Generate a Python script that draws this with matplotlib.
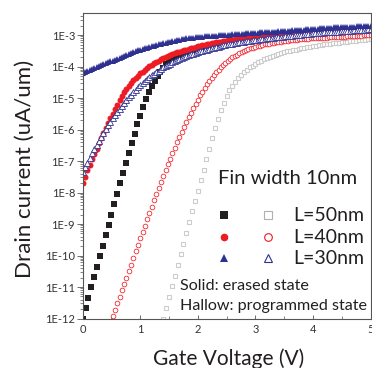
import numpy as np
import matplotlib.pyplot as plt
from matplotlib.ticker import LogLocator, FuncFormatter, MultipleLocator, NullFormatter

plt.rcParams['font.family'] = ['Lato', 'DejaVu Sans']

# log10 of drain current (uA/um)
# L=50nm, erased (solid squares), 0 V .. 5 V step 0.05
l50_erased = [
    -12.00, -11.67, -11.34, -11.01, -10.68, -10.35, -10.02, -9.69, -9.36, -9.03,
    -8.70, -8.37, -8.04, -7.71, -7.38, -7.06, -6.74, -6.43, -6.13, -5.84,
    -5.56, -5.29, -5.04, -4.82, -4.62, -4.45, -4.30, -4.17, -4.05, -3.93,
    -3.82, -3.77, -3.73, -3.68, -3.64, -3.60, -3.57, -3.54, -3.51, -3.49,
    -3.47, -3.45, -3.43, -3.41, -3.40, -3.38, -3.37, -3.36, -3.35, -3.33,
    -3.32, -3.30, -3.28, -3.27, -3.25, -3.24, -3.22, -3.21, -3.20, -3.19,
    -3.18, -3.16, -3.15, -3.14, -3.13, -3.12, -3.11, -3.10, -3.09, -3.08,
    -3.07, -3.06, -3.05, -3.04, -3.03, -3.02, -3.01, -3.00, -2.99, -2.98,
    -2.97, -2.96, -2.96, -2.95, -2.94, -2.93, -2.93, -2.92, -2.91, -2.91,
    -2.90, -2.89, -2.89, -2.88, -2.88, -2.87, -2.87, -2.86, -2.85, -2.85,
    -2.84]
# L=50nm, programmed (hollow squares), 1.40 V .. 5 V step 0.05
l50_prog = [
    -12.00, -11.66, -11.32, -10.98, -10.64, -10.30, -9.96, -9.62, -9.28, -8.94,
    -8.60, -8.27, -7.94, -7.61, -7.28, -6.95, -6.62, -6.28, -5.96, -5.66,
    -5.39, -5.15, -4.94, -4.76, -4.61, -4.48, -4.37, -4.27, -4.18, -4.10,
    -4.03, -3.97, -3.91, -3.86, -3.81, -3.77, -3.73, -3.69, -3.66, -3.63,
    -3.60, -3.57, -3.54, -3.52, -3.50, -3.48, -3.46, -3.44, -3.42, -3.40,
    -3.38, -3.37, -3.35, -3.34, -3.32, -3.31, -3.29, -3.28, -3.27, -3.26,
    -3.25, -3.24, -3.23, -3.22, -3.21, -3.20, -3.19, -3.18, -3.17, -3.16,
    -3.15, -3.14, -3.13]
# L=40nm, erased (solid circles), 0 V .. 5 V step 0.04
l40_erased = [
    -7.70, -7.50, -7.30, -7.12, -6.95, -6.78, -6.61, -6.44, -6.28, -6.12,
    -5.96, -5.80, -5.65, -5.50, -5.35, -5.21, -5.07, -4.94, -4.82, -4.71,
    -4.61, -4.52, -4.44, -4.36, -4.29, -4.22, -4.16, -4.10, -4.04, -3.99,
    -3.94, -3.89, -3.85, -3.81, -3.77, -3.73, -3.70, -3.67, -3.64, -3.61,
    -3.58, -3.55, -3.53, -3.50, -3.48, -3.46, -3.44, -3.42, -3.40, -3.38,
    -3.36, -3.34, -3.32, -3.31, -3.29, -3.28, -3.26, -3.25, -3.23, -3.22,
    -3.21, -3.19, -3.18, -3.17, -3.16, -3.15, -3.14, -3.13, -3.12, -3.11,
    -3.10, -3.09, -3.08, -3.07, -3.06, -3.05, -3.04, -3.04, -3.03, -3.02,
    -3.02, -3.01, -3.00, -3.00, -2.99, -2.99, -2.98, -2.98, -2.97, -2.97,
    -2.96, -2.96, -2.95, -2.95, -2.95, -2.94, -2.94, -2.93, -2.93, -2.93,
    -2.92, -2.92, -2.92, -2.91, -2.91, -2.91, -2.90, -2.90, -2.90, -2.90,
    -2.89, -2.89, -2.89, -2.89, -2.88, -2.88, -2.88, -2.88, -2.87, -2.87,
    -2.87, -2.87, -2.86, -2.86, -2.86, -2.86]
# L=40nm, programmed (hollow circles), 0.52 V .. 5 V step 0.04
l40_prog = [
    -11.92, -11.72, -11.52, -11.31, -11.11, -10.90, -10.70, -10.49, -10.29, -10.08,
    -9.87, -9.67, -9.46, -9.26, -9.05, -8.85, -8.65, -8.45, -8.25, -8.05,
    -7.86, -7.67, -7.48, -7.29, -7.11, -6.93, -6.75, -6.58, -6.41, -6.24,
    -6.08, -5.92, -5.76, -5.61, -5.46, -5.32, -5.18, -5.05, -4.92, -4.80,
    -4.68, -4.57, -4.46, -4.36, -4.27, -4.18, -4.10, -4.02, -3.95, -3.88,
    -3.82, -3.76, -3.71, -3.66, -3.62, -3.58, -3.54, -3.51, -3.48, -3.45,
    -3.42, -3.40, -3.38, -3.36, -3.34, -3.32, -3.30, -3.29, -3.27, -3.26,
    -3.24, -3.23, -3.22, -3.21, -3.20, -3.19, -3.18, -3.17, -3.16, -3.15,
    -3.15, -3.14, -3.13, -3.13, -3.12, -3.12, -3.11, -3.11, -3.10, -3.10,
    -3.09, -3.09, -3.08, -3.08, -3.07, -3.07, -3.07, -3.06, -3.06, -3.05,
    -3.05, -3.05, -3.04, -3.04, -3.03, -3.03, -3.03, -3.02, -3.02, -3.01,
    -3.01, -3.01, -3.00]
# L=30nm, erased (solid triangles), 0 V .. 5 V step 0.04
l30_erased = [
    -4.20, -4.17, -4.14, -4.11, -4.08, -4.05, -4.02, -3.99, -3.96, -3.93,
    -3.90, -3.87, -3.84, -3.81, -3.78, -3.75, -3.72, -3.69, -3.66, -3.63,
    -3.60, -3.57, -3.54, -3.52, -3.49, -3.47, -3.45, -3.42, -3.40, -3.38,
    -3.36, -3.34, -3.32, -3.30, -3.28, -3.26, -3.24, -3.22, -3.21, -3.19,
    -3.18, -3.16, -3.15, -3.13, -3.12, -3.11, -3.10, -3.09, -3.08, -3.07,
    -3.06, -3.05, -3.05, -3.04, -3.04, -3.03, -3.03, -3.02, -3.02, -3.01,
    -3.01, -3.00, -3.00, -2.99, -2.99, -2.98, -2.98, -2.97, -2.97, -2.96,
    -2.96, -2.95, -2.95, -2.94, -2.94, -2.93, -2.93, -2.92, -2.92, -2.91,
    -2.91, -2.90, -2.90, -2.89, -2.89, -2.88, -2.88, -2.87, -2.87, -2.86,
    -2.86, -2.85, -2.85, -2.84, -2.84, -2.83, -2.83, -2.82, -2.82, -2.81,
    -2.81, -2.80, -2.80, -2.79, -2.79, -2.78, -2.78, -2.77, -2.77, -2.76,
    -2.76, -2.75, -2.75, -2.75, -2.74, -2.74, -2.73, -2.73, -2.73, -2.72,
    -2.72, -2.71, -2.71, -2.71, -2.70, -2.70]
# L=30nm, programmed (hollow triangles), 0 V .. 5 V step 0.04
l30_prog = [
    -7.35, -7.20, -7.05, -6.90, -6.76, -6.62, -6.49, -6.36, -6.23, -6.11,
    -5.99, -5.87, -5.76, -5.65, -5.54, -5.44, -5.34, -5.24, -5.15, -5.06,
    -4.97, -4.89, -4.81, -4.73, -4.66, -4.59, -4.52, -4.46, -4.40, -4.34,
    -4.28, -4.23, -4.18, -4.13, -4.08, -4.03, -3.99, -3.95, -3.91, -3.87,
    -3.83, -3.80, -3.76, -3.73, -3.70, -3.67, -3.64, -3.61, -3.59, -3.56,
    -3.54, -3.52, -3.50, -3.48, -3.46, -3.44, -3.42, -3.40, -3.38, -3.37,
    -3.35, -3.33, -3.32, -3.30, -3.29, -3.27, -3.26, -3.25, -3.23, -3.22,
    -3.21, -3.20, -3.19, -3.18, -3.17, -3.16, -3.15, -3.14, -3.13, -3.12,
    -3.11, -3.10, -3.09, -3.08, -3.07, -3.06, -3.06, -3.05, -3.04, -3.03,
    -3.02, -3.02, -3.01, -3.00, -2.99, -2.99, -2.98, -2.97, -2.97, -2.96,
    -2.95, -2.95, -2.94, -2.93, -2.93, -2.92, -2.92, -2.91, -2.91, -2.90,
    -2.89, -2.89, -2.88, -2.88, -2.87, -2.87, -2.86, -2.86, -2.85, -2.85,
    -2.84, -2.84, -2.83, -2.83, -2.82, -2.82]

legend_labels = ['L=50nm', 'L=40nm', 'L=30nm']

black = '#231f20'
red = '#ed1c24'
blue = '#2e3192'
grey = '#cccccc'


def vgrid(start, step, vals):
    return np.round(start + step * np.arange(len(vals)), 2)


def cur(vals):
    return 10.0 ** np.array(vals)


fig = plt.figure(figsize=(3.72, 3.68), dpi=100)
ax = fig.add_axes([0.2223, 0.1345, 0.7737, 0.8294])

ax.plot(vgrid(0, 0.05, l50_erased), cur(l50_erased), ls='none', marker='s',
        ms=4.0, mfc=black, mec=black, mew=0)
ax.plot(vgrid(0, 0.04, l40_erased), cur(l40_erased), ls='none', marker='o',
        ms=4.3, mfc=red, mec=red, mew=0)
ax.plot(vgrid(1.40, 0.05, l50_prog), cur(l50_prog), ls='none', marker='s',
        ms=3.1, mfc='white', mec=grey, mew=0.8)
ax.plot(vgrid(0.52, 0.04, l40_prog), cur(l40_prog), ls='none', marker='o',
        ms=3.4, mfc='white', mec=red, mew=0.55)
ax.plot(vgrid(0, 0.04, l30_prog), cur(l30_prog), ls='none', marker='^',
        ms=4.3, mfc='white', mec=blue, mew=0.6)
ax.plot(vgrid(0, 0.04, l30_erased), cur(l30_erased), ls='none', marker='^',
        ms=4.5, mfc=blue, mec=blue, mew=0)

ax.set_xlim(0, 5)
ax.set_yscale('log')
ax.set_ylim(1e-12, 10 ** -2.31)

ax.xaxis.set_major_locator(MultipleLocator(1))
ax.xaxis.set_minor_locator(MultipleLocator(0.5))
ax.yaxis.set_major_locator(LogLocator(base=10, numticks=20))
ax.yaxis.set_minor_locator(LogLocator(base=10, subs=np.arange(2, 10), numticks=20))
ax.yaxis.set_major_formatter(FuncFormatter(lambda v, p: '1E%d' % round(np.log10(v))))
ax.yaxis.set_minor_formatter(NullFormatter())

ax.tick_params(axis='y', which='major', direction='out', length=4, width=0.6,
               color='#555555', labelsize=8, labelcolor='#333333', pad=1.5)
ax.tick_params(axis='y', which='minor', direction='out', length=2.2, width=0.5,
               color='#555555')
ax.tick_params(axis='x', which='major', direction='in', length=3, width=0.6,
               color='#555555', labelsize=8, labelcolor='#333333', pad=4)
ax.tick_params(axis='x', which='minor', direction='in', length=2, width=0.5,
               color='#555555')
for s in ax.spines.values():
    s.set_color('#555555')
    s.set_linewidth(0.8)

ax.set_ylabel('Drain current (uA/um)', fontsize=16, color=black)
ax.yaxis.set_label_coords(-0.166, 0.491)
ax.set_xlabel('Gate Voltage (V)', fontsize=15, color=black)
ax.xaxis.set_label_coords(0.508, -0.098)

# legend drawn by hand
ax.text(0.471, 0.44, 'Fin width 10nm', transform=ax.transAxes, fontsize=14.5,
        color=black, va='baseline', ha='left')
rows = [0.339, 0.266, 0.198]
solid = [('s', black, black), ('o', red, red), ('^', blue, blue)]
hollow = [('s', 'white', '#b0b0b0'), ('o', 'white', red), ('^', 'white', blue)]
for i, lab in enumerate(legend_labels):
    m, fc, ec = solid[i]
    ax.plot([0.491], [rows[i]], transform=ax.transAxes, marker=m, ms=5.5,
            mfc=fc, mec=ec, mew=0, ls='none', clip_on=False)
    m, fc, ec = hollow[i]
    ax.plot([0.644], [rows[i]], transform=ax.transAxes, marker=m, ms=5.5,
            mfc=fc, mec=ec, mew=0.8, ls='none', clip_on=False)
    ax.text(0.731, rows[i], lab, transform=ax.transAxes, fontsize=14,
            color=black, va='center', ha='left')

ax.text(0.338, 0.106, 'Solid: erased state', transform=ax.transAxes,
        fontsize=11.6, color=black, va='center', ha='left')
ax.text(0.338, 0.041, 'Hallow: programmed state', transform=ax.transAxes,
        fontsize=11.6, color=black, va='center', ha='left')

fig.savefig('out.png', dpi=100)
